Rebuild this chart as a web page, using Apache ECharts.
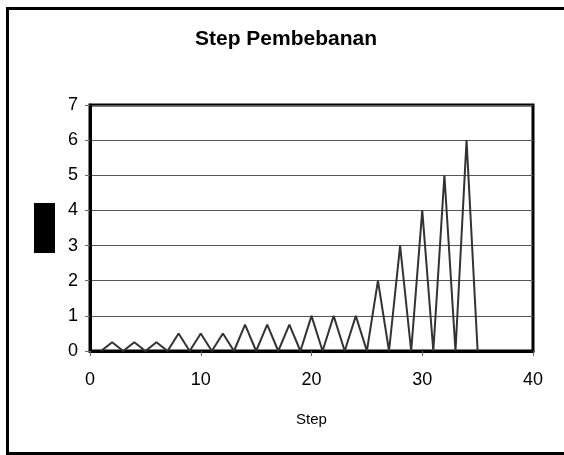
<!DOCTYPE html>
<html>
<head>
<meta charset="utf-8">
<script src="https://cdn.jsdelivr.net/npm/echarts@6/dist/echarts.min.js"></script>
<style>html,body{margin:0;padding:0;background:#fff;}#c{width:564px;height:455px;}</style>
</head>
<body>
<div id="c"></div>
<script>
var steps = [1,2,3,4,5,6,7,8,9,10,11,12,13,14,15,16,17,18,19,20,21,22,23,24,25,26,27,28,29,30,31,32,33,34,35];
var loads = [0,0.25,0,0.25,0,0.25,0,0.5,0,0.5,0,0.5,0,0.75,0,0.75,0,0.75,0,1,0,1,0,1,0,2,0,3,0,4,0,5,0,6,0];
var xTicks = [0,10,20,30,40];
var yTicks = [0,1,2,3,4,5,6,7];

var chart = echarts.init(document.getElementById('c'), null, {renderer:'canvas'});
var FONT = 'Liberation Sans, Arial, sans-serif';
chart.setOption({
  animation: false,
  backgroundColor: '#fff',
  title: {
    text: 'Step Pembebanan',
    left: 281, top: 24, textAlign: 'center',
    textStyle: {fontFamily: FONT, fontSize: 21, fontWeight: 'bold', color: '#000'}
  },
  grid: {left: 90, right: 31, top: 105, bottom: 104, show: true, borderColor: '#000', borderWidth: 3, containLabel: false},
  xAxis: {
    type: 'value', min: xTicks[0], max: xTicks[xTicks.length-1], interval: 10,
    name: 'Step', nameLocation: 'middle', nameGap: 61,
    nameTextStyle: {fontFamily: FONT, fontSize: 15, color: '#000'},
    axisLine: {show: true, onZero: false, lineStyle: {color: '#000', width: 3}},
    axisTick: {show: true, inside: false, length: 5, lineStyle: {color: '#666', width: 1}},
    axisLabel: {fontFamily: FONT, fontSize: 18, color: '#000', margin: 20},
    splitLine: {show: false}
  },
  yAxis: {
    type: 'value', min: yTicks[0], max: yTicks[yTicks.length-1], interval: 1,
    axisLine: {show: true, onZero: false, lineStyle: {color: '#000', width: 3}},
    axisTick: {show: true, inside: false, length: 5, lineStyle: {color: '#666', width: 1}},
    axisLabel: {fontFamily: FONT, fontSize: 18, color: '#000', margin: 12},
    splitLine: {show: true, lineStyle: {color: '#555', width: 1}}
  },
  graphic: [
    {type: 'rect', shape: {x: 7.5, y: 8.5, width: 600, height: 445}, style: {fill: null, stroke: '#000', lineWidth: 3}, z: 100},
    {type: 'rect', shape: {x: 34, y: 203, width: 21, height: 50}, style: {fill: '#000'}, z: 100}
  ],
  series: [{
    type: 'line',
    data: steps.map(function(s, i){ return [s, loads[i]]; }),
    showSymbol: false,
    lineStyle: {color: '#333', width: 2},
    clip: false
  }]
});
</script>
</body>
</html>
